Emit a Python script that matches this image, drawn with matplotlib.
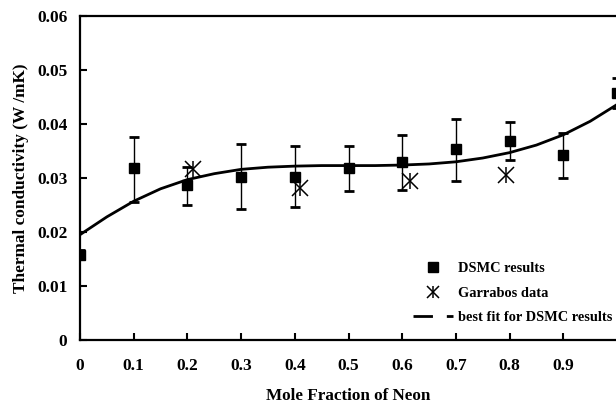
"""Thermal conductivity vs mole fraction of neon: DSMC results, Garrabos data, cubic fit."""
import matplotlib
matplotlib.use('Agg')
import matplotlib.pyplot as plt
from matplotlib.lines import Line2D

matplotlib.rcParams['font.family'] = 'Liberation Serif'
matplotlib.rcParams['font.weight'] = 'bold'

# DSMC results with error bars
dsmc_x = [0.0, 0.1, 0.2, 0.3, 0.4, 0.5, 0.6, 0.7, 0.8, 0.9, 1.0]
dsmc_y = [0.0158, 0.0319, 0.0287, 0.0302, 0.0302, 0.0318, 0.0330, 0.0353, 0.0369, 0.0343, 0.0457]
dsmc_hi = [0.0166, 0.0376, 0.0320, 0.0363, 0.0360, 0.0359, 0.0380, 0.0409, 0.0403, 0.0383, 0.0485]
dsmc_lo = [0.0150, 0.0255, 0.0250, 0.0243, 0.0246, 0.0276, 0.0278, 0.0294, 0.0334, 0.0300, 0.0430]

# Garrabos data
garr_x = [0.21, 0.41, 0.615, 0.794]
garr_y = [0.0317, 0.0282, 0.0294, 0.0306]

# best fit curve for DSMC results
fit_x = [0.0, 0.05, 0.1, 0.15, 0.2, 0.25, 0.3, 0.35, 0.4, 0.45, 0.5,
         0.55, 0.6, 0.65, 0.7, 0.75, 0.8, 0.85, 0.9, 0.95, 1.0]
fit_y = [0.0195, 0.0228, 0.0257, 0.0280, 0.0297, 0.0308, 0.0316, 0.0320, 0.0322, 0.0323, 0.0323,
         0.0323, 0.0324, 0.0326, 0.0330, 0.0337, 0.0347, 0.0361, 0.0380, 0.0405, 0.0436]

xticks = [0, 0.1, 0.2, 0.3, 0.4, 0.5, 0.6, 0.7, 0.8, 0.9]
xticklabels = ['0', '0.1', '0.2', '0.3', '0.4', '0.5', '0.6', '0.7', '0.8', '0.9']
yticks = [0, 0.01, 0.02, 0.03, 0.04, 0.05, 0.06]
yticklabels = ['0', '0.01', '0.02', '0.03', '0.04', '0.05', '0.06']

fig = plt.figure(figsize=(6.16, 4.05), dpi=100)
ax = fig.add_axes([80 / 616, 65 / 405, 536 / 616, 324 / 405])

ax.plot(fit_x, fit_y, color='black', lw=2.0, zorder=2)

yerr = [[y - lo for y, lo in zip(dsmc_y, dsmc_lo)],
        [hi - y for y, hi in zip(dsmc_y, dsmc_hi)]]
ax.errorbar(dsmc_x, dsmc_y, yerr=yerr, fmt='s', color='black', ms=7,
            elinewidth=1, capsize=3.5, capthick=2, zorder=3)

hx, = ax.plot(garr_x, garr_y, 'x', color='black', ms=11, mew=1.1, zorder=4)
hb, = ax.plot(garr_x, garr_y, '|', color='black', ms=11, mew=1.1, zorder=4)

ax.set_xlim(0, 536 / 537)
ax.set_ylim(0, 0.06)
ax.set_xticks(xticks)
ax.set_xticklabels(xticklabels)
ax.set_yticks(yticks)
ax.set_yticklabels(yticklabels)
ax.tick_params(direction='in', length=5, width=1.5, labelsize=12.5)
ax.tick_params(axis='x', pad=13)
ax.tick_params(axis='y', pad=9)

for side in ['left', 'bottom', 'top']:
    ax.spines[side].set_linewidth(1.6)
ax.spines['right'].set_visible(False)

ax.set_xlabel('Mole Fraction of Neon', fontsize=12.3, fontweight='bold', labelpad=10)
ax.set_ylabel('Thermal conductivity (W /mK)', fontsize=12.4, fontweight='bold', labelpad=6)

# legend
h_sq = Line2D([], [], marker='s', ls='none', color='black', ms=7)
lx = Line2D([], [], marker='x', ls='none', color='black', ms=8, mew=1.1)
lb = Line2D([], [], marker='|', ls='none', color='black', ms=8, mew=1.1)
h_fit = Line2D([], [], color='black', lw=2, dashes=(7, 5, 4, 0.5))
fig.legend([h_sq, (lx, lb), h_fit],
           ['DSMC results', 'Garrabos data', 'best fit for DSMC results'],
           loc='upper left', bbox_to_anchor=(413 / 616, 143 / 405),
           frameon=False, fontsize=10.4, handlelength=2.8, handletextpad=0.35,
           labelspacing=0.8, borderpad=0, borderaxespad=0)

plt.savefig('out.png', dpi=100, facecolor='white')
print('OK: out.png')
